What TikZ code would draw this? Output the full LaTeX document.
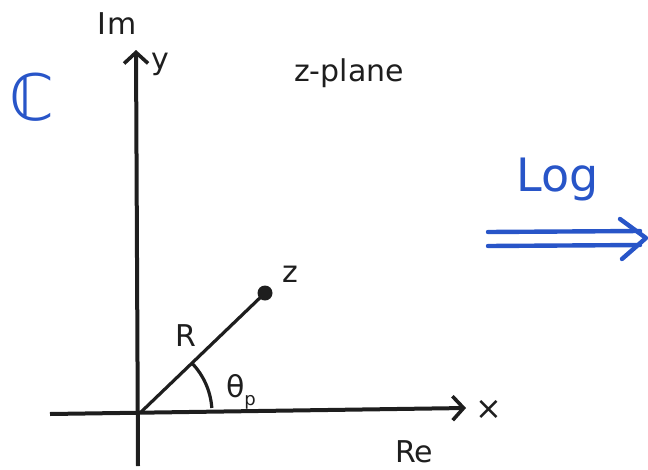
\documentclass[tikz,border=0pt]{standalone}
\usepackage{fontspec}
\setmainfont{DejaVu Sans}
\usetikzlibrary{arrows.meta}
\definecolor{penblue}{RGB}{40,85,200}
\definecolor{pen}{RGB}{30,30,30}
\tikzset{
  axis/.style={pen, line width=4pt, -{Straight Barb[length=11pt,width=24pt,line width=3.6pt]}},
  lbl/.style={pen, font=\fontsize{30}{32}\selectfont, inner sep=0pt},
  bluelbl/.style={penblue, font=\fontsize{46}{48}\selectfont, inner sep=0pt},
  blueline/.style={penblue, line width=4.4pt, line cap=round},
}
\begin{document}
\begin{tikzpicture}[x=1pt,y=-1pt]
\useasboundingbox (0,0) rectangle (648,469);
% axes
\coordinate (O) at (140,413);
\coordinate (ybot) at (138,466);
\coordinate (ytop) at (136,50);
\coordinate (xleft) at (50,414);
\coordinate (xright) at (466,408);
\draw[axis] (ybot) -- (ytop);
\draw[axis] (xleft) -- (xright);
% labels
\node[lbl] (im) at (117,24) {I\kern1pt m};
\node[lbl] (y) at (160,64) {y};
\node[lbl, font=\fontsize{32}{34}\selectfont] (x) at (489,410) {×};
\node[lbl] (re) at (414,452) {Re};
\node[bluelbl, font=\fontsize{64}{66}\selectfont] (C) at (32,97) {ℂ};
\node[lbl] (zp) at (349,73) {z-plane};
% point z
\node[circle, fill=pen, minimum size=15pt, inner sep=0pt] (z) at (265,293) {};
\draw[pen, line width=3.2pt] (O) -- (z.center);
\node[lbl] (zl) at (290,274) {z};
\node[lbl] (R) at (186,336) {R};
% angle arc
\draw[pen, line width=3.2pt] ([shift={(-44:72)}]O) arc[start angle=-44, end angle=-4, radius=72];
\node[lbl] (th) at (241,392) {θ\raisebox{-8pt}{\fontsize{18}{19}\selectfont p}};
% Log arrow
\node[bluelbl] (log) at (558,180) {Log};
\coordinate (a1) at (488,232);
\coordinate (b1) at (640,231);
\coordinate (a2) at (488,246);
\coordinate (b2) at (640,245);
\coordinate (tip) at (646,238);
\coordinate (h1) at (620,219);
\coordinate (h2) at (622,259);
\draw[blueline] (a1) -- (b1);
\draw[blueline] (a2) -- (b2);
\draw[blueline, line join=round] (h1) -- (tip) -- (h2);
\end{tikzpicture}
\end{document}
